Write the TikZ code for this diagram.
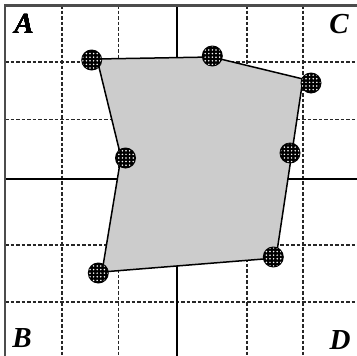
\documentclass[tikz,border=0pt]{standalone}
\usepackage{fontspec}
\setmainfont{Liberation Serif}
\usetikzlibrary{patterns.meta}
\tikzdeclarepattern{name=whitedots, type=uncolored,
  bounding box={(-1pt,-1pt) and (1pt,1pt)}, tile size={(3.6pt,3.6pt)},
  code={\fill (0pt,0pt) circle (0.85pt);}}
\tikzset{
  gridline/.style={line width=1.6pt, dash pattern=on 3.5pt off 2pt, black!85},
  axisline/.style={line width=1.8pt, black},
  frameline/.style={line width=2.2pt, black!70},
  polyfill/.style={fill=black!20, draw=black, line width=1.5pt, line join=round},
  corner/.style={font=\fontsize{29}{29}\selectfont\bfseries\itshape, inner sep=0pt},
}
\newcommand\hatchdot[1]{%
  \fill[black] (#1) circle (10.5pt);
  \fill[pattern=whitedots, pattern color=white] (#1) circle (9.5pt);
}
\begin{document}
\begin{tikzpicture}[x=1pt,y=-1pt]
\useasboundingbox (0,0) rectangle (357,356);
\fill[white] (0,0) rectangle (357,356);
% grid
\foreach \x in {61.7,118.3,246.7,302.7} \draw[gridline] (\x,5) -- (\x,356);
\foreach \y in {62,119.3,245,301.7} \draw[gridline] (5,\y) -- (357,\y);
\draw[axisline] (176.7,5) -- (176.7,356);
\draw[axisline] (5,179.3) -- (357,179.3);
\draw[frameline] (5,356) -- (5,5.5) -- (357,5.5);
% polygon
\coordinate (p1) at (97,59);
\coordinate (p2) at (212,57);
\coordinate (p3) at (303,79);
\coordinate (p4) at (292,152);
\coordinate (p5) at (276,258);
\coordinate (p6) at (102,272);
\coordinate (p7) at (121,157);
\draw[polyfill] (p1) -- (p2) -- (p3) -- (p4) -- (p5) -- (p6) -- (p7) -- cycle;
% dots
\coordinate (d1) at (91.7,60);
\coordinate (d2) at (212.3,56);
\coordinate (d3) at (311,83);
\coordinate (d4) at (125.5,158);
\coordinate (d5) at (290,153);
\coordinate (d6) at (98.3,273);
\coordinate (d7) at (273.3,257);
\foreach \d in {d1,d2,d3,d4,d5,d6,d7} \hatchdot{\d}
% labels
\node[corner] (A) at (24,24) {A};
\node[corner] (C) at (339,24) {C};
\node[corner] (B) at (22,338) {B};
\node[corner] (D) at (340,340) {D};
\end{tikzpicture}
\end{document}
